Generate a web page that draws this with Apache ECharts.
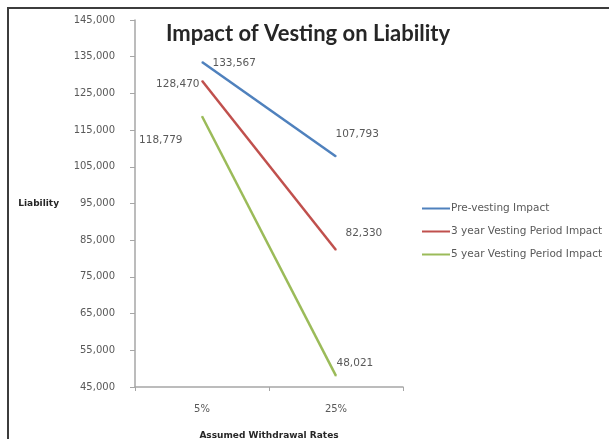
<!DOCTYPE html>
<html>
<head>
<meta charset="utf-8">
<title>Impact of Vesting on Liability</title>
<script src="https://cdn.jsdelivr.net/npm/echarts@6/dist/echarts.min.js"></script>
<style>
  html, body { margin: 0; padding: 0; background: #fff; }
  #chart { width: 609px; height: 439px; position: relative; }
  #frame {
    position: absolute; left: 7px; top: 7px; right: 0; bottom: 0;
    border-top: 2px solid #3c3c3c; border-left: 2px solid #3c3c3c;
    pointer-events: none;
  }
</style>
</head>
<body>
<div style="position:relative;width:609px;height:439px;">
  <div id="chart"></div>
  <div id="frame"></div>
</div>
<script>
  // 数据
  var rates = ['5%', '25%'];
  var preVesting = [133567, 107793];
  var threeYear = [128470, 82330];
  var fiveYear = [118779, 48021];
  var seriesNames = ['Pre-vesting Impact', '3 year Vesting Period Impact', '5 year Vesting Period Impact'];

  var fmt = function (v) { return Number(v).toLocaleString('en-US'); };
  var font = '"DejaVu Sans", sans-serif';
  var titleFont = 'Lato, "Open Sans", sans-serif';

  // 每个数据标签的位置
  function labelled(values, places) {
    return values.map(function (v, i) {
      return {
        value: v,
        label: {
          show: true,
          position: places[i][0],
          offset: places[i][1],
          formatter: function (p) { return fmt(p.value); },
          color: '#595959',
          fontSize: 10.5,
          fontFamily: font
        }
      };
    });
  }

  var chart = echarts.init(document.getElementById('chart'));

  var option = {
    backgroundColor: '#fff',
    title: {
      text: 'Impact of Vesting on Liability',
      left: 303,
      textAlign: 'center',
      top: 18,
      textStyle: { fontFamily: titleFont, fontWeight: 'bold', fontSize: 22, color: '#262626' }
    },
    legend: {
      orient: 'vertical',
      left: 422,
      top: 203,
      padding: 0,
      itemGap: 12,
      itemWidth: 28,
      itemHeight: 2,
      icon: 'rect',
      data: seriesNames,
      textStyle: { fontFamily: font, fontSize: 10.5, color: '#595959', padding: [0, 0, 0, -4] }
    },
    grid: {
      left: 135, right: 206, top: 20, bottom: 52,
      containLabel: false,
      outerBoundsMode: 'none'
    },
    xAxis: {
      type: 'category',
      data: rates,
      boundaryGap: true,
      name: 'Assumed Withdrawal Rates',
      nameLocation: 'middle',
      nameGap: 44,
      nameTextStyle: { fontFamily: font, fontWeight: 'bold', fontSize: 9, color: '#262626' },
      axisLine: { lineStyle: { color: '#a6a6a6', width: 1.5 } },
      axisTick: { show: true, length: 4, lineStyle: { color: '#a6a6a6' } },
      axisLabel: { margin: 17, fontFamily: font, fontSize: 10, color: '#595959' }
    },
    yAxis: {
      type: 'value',
      min: 45000,
      max: 145000,
      interval: 10000,
      name: 'Liability',
      nameLocation: 'middle',
      nameRotate: 0,
      nameGap: 76,
      nameTextStyle: { fontFamily: font, fontWeight: 'bold', fontSize: 9, color: '#262626' },
      splitLine: { show: false },
      axisLine: { show: true, lineStyle: { color: '#a6a6a6', width: 1.5 } },
      axisTick: { show: true, length: 5, inside: false, lineStyle: { color: '#a6a6a6' } },
      axisLabel: { margin: 20, fontFamily: font, fontSize: 10, color: '#595959', formatter: fmt }
    },
    series: [
      {
        name: seriesNames[0],
        type: 'line',
        data: labelled(preVesting, [['right', [5, 1]], ['right', [-6, -22]]]),
        symbol: 'circle', symbolSize: 1,
        lineStyle: { width: 2.5, color: '#4f81bd' },
        itemStyle: { color: '#4f81bd' }
      },
      {
        name: seriesNames[1],
        type: 'line',
        data: labelled(threeYear, [['left', [3, 4]], ['right', [4, -17]]]),
        symbol: 'circle', symbolSize: 1,
        lineStyle: { width: 2.5, color: '#c0504d' },
        itemStyle: { color: '#c0504d' }
      },
      {
        name: seriesNames[2],
        type: 'line',
        data: labelled(fiveYear, [['left', [-14, 24]], ['right', [-5, -13]]]),
        symbol: 'circle', symbolSize: 1,
        lineStyle: { width: 2.5, color: '#9bbb59' },
        itemStyle: { color: '#9bbb59' }
      }
    ]
  };

  chart.setOption(option);
</script>
</body>
</html>
